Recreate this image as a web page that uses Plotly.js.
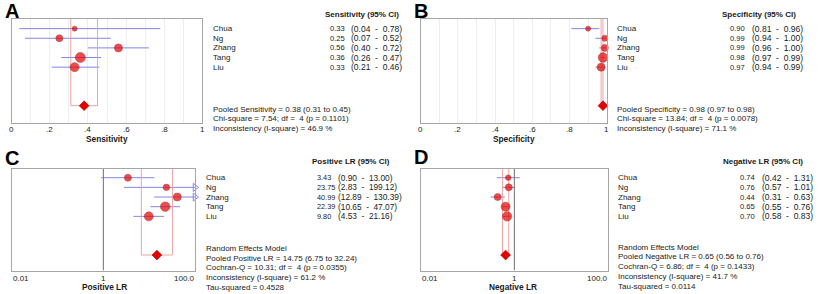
<!DOCTYPE html>
<html>
<head>
<meta charset="utf-8">
<script src="https://cdn.plot.ly/plotly-3.0.1.min.js"></script>
<style>html,body{margin:0;padding:0;background:#fff}#chart{width:819px;height:294px}</style>
</head>
<body>
<div id="chart"></div>
<script>
// ---------- DATA ----------
const studies = ['Chua', 'Ng', 'Zhang', 'Tang', 'Liu'];

const sens    = [0.33, 0.25, 0.56, 0.36, 0.33];
const sensLo  = [0.04, 0.07, 0.40, 0.26, 0.21];
const sensHi  = [0.78, 0.52, 0.72, 0.47, 0.46];
const sensPooled = [0.38, 0.31, 0.45];

const spec    = [0.90, 0.99, 0.99, 0.98, 0.97];
const specLo  = [0.81, 0.94, 0.96, 0.97, 0.94];
const specHi  = [0.96, 1.00, 1.00, 0.99, 0.99];
const specPooled = [0.98, 0.97, 0.98];

const plr     = [3.43, 23.75, 40.99, 22.39, 9.80];
const plrLo   = [0.90, 2.83, 12.89, 10.65, 4.53];
const plrHi   = [13.00, 199.12, 130.39, 47.07, 21.16];
const plrPooled = [14.75, 6.75, 32.24];

const nlr     = [0.74, 0.76, 0.44, 0.65, 0.70];
const nlrLo   = [0.42, 0.57, 0.31, 0.55, 0.58];
const nlrHi   = [1.31, 1.01, 0.63, 0.76, 0.83];
const nlrPooled = [0.65, 0.56, 0.76];

const statsA = ['Pooled Sensitivity = 0.38 (0.31 to 0.45)', 'Chi-square = 7.54; df =  4 (p = 0.1101)', 'Inconsistency (I-square) = 46.9 %'];
const statsB = ['Pooled Specificity = 0.98 (0.97 to 0.98)', 'Chi-square = 13.84; df =  4 (p = 0.0078)', 'Inconsistency (I-square) = 71.1 %'];
const statsC = ['Random Effects Model', 'Pooled Positive LR = 14.75 (6.75 to 32.24)', 'Cochran-Q = 10.31; df =  4 (p = 0.0355)', 'Inconsistency (I-square) = 61.2 %', 'Tau-squared = 0.4528'];
const statsD = ['Random Effects Model', 'Pooled Negative LR = 0.65 (0.56 to 0.76)', 'Cochran-Q = 6.86; df =  4 (p = 0.1433)', 'Inconsistency (I-square) = 41.7 %', 'Tau-squared = 0.0114'];

const linTickVals = [0, 0.2, 0.4, 0.6, 0.8, 1];
const linTickText = ['0', '.2', '.4', '.6', '.8', '1'];
const linGridVals = [0, 0.1, 0.2, 0.3, 0.4, 0.5, 0.6, 0.7, 0.8, 0.9, 1];
const logTickVals = [0.01, 1, 100];
const logTickText = ['0.01', '1', '100.0'];

// ---------- STYLE ----------
const W = 819, H = 294;
const FONT = 'Liberation Sans, Arial, sans-serif';
const TXT = '#1a1a1a';
const CI_COL = '#8585e6';
const BOX_COL = '#eb9c9c';
const MK_FILL = '#e80000';
const MK_LINE = '#8a0000';
const sizesA = [5, 7, 8, 10, 9];
const sizesB = [5, 6, 7, 9.5, 8];
const sizesC = [7, 6.5, 8, 9.5, 9];
const sizesD = [5.5, 7, 7, 9, 9.3];
const rowY = studies.map((s, i) => i + 1);
const POOL_ROW = 9;
const NUM_SIZE = 7.6, CI_SIZE = 8.5, NAME_SIZE = 8, STAT_SIZE = 8;

const px = x => x / W;
const py = y => 1 - y / H;

const traces = [];
const annotations = [];

function panel(ax, vals, lo, hi, pooled, sizes, maxX, topY) {
  const xa = 'x' + ax, ya = 'y' + ax;
  const cx = [], cy = [];
  const arrX = [], arrY = [];
  vals.forEach((v, i) => {
    const clipped = (maxX !== null && hi[i] > maxX);
    cx.push(lo[i], clipped ? maxX : hi[i], null); cy.push(rowY[i], rowY[i], null);
    if (clipped) { arrX.push(maxX); arrY.push(rowY[i]); }
  });
  traces.push({x: cx, y: cy, xaxis: xa, yaxis: ya, mode: 'lines', type: 'scatter',
    line: {color: CI_COL, width: 1}, hoverinfo: 'skip', showlegend: false});
  if (arrX.length) {
    traces.push({x: arrX, y: arrY, xaxis: xa, yaxis: ya, mode: 'markers', type: 'scatter', cliponaxis: false,
      marker: {symbol: 'triangle-right-open', size: 7, color: CI_COL, line: {width: 1, color: CI_COL}},
      hoverinfo: 'skip', showlegend: false});
  }
  // pooled CI box
  traces.push({x: [pooled[1], pooled[1], pooled[2], pooled[2]], y: [topY, POOL_ROW, POOL_ROW, topY],
    xaxis: xa, yaxis: ya, mode: 'lines', type: 'scatter', line: {color: BOX_COL, width: 0.9},
    hoverinfo: 'skip', showlegend: false});
  // study markers
  traces.push({x: vals, y: rowY, xaxis: xa, yaxis: ya, mode: 'markers', type: 'scatter', cliponaxis: false,
    marker: {symbol: 'circle', size: sizes, color: MK_FILL, line: {color: MK_LINE, width: 0.6}},
    hoverinfo: 'skip', showlegend: false});
  // pooled diamond
  traces.push({x: [pooled[0]], y: [POOL_ROW], xaxis: xa, yaxis: ya, mode: 'markers', type: 'scatter', cliponaxis: false,
    marker: {symbol: 'diamond', size: 7.5, color: MK_FILL, line: {color: MK_LINE, width: 0.6}},
    hoverinfo: 'skip', showlegend: false});
}

panel('', sens, sensLo, sensHi, sensPooled, sizesA, null, 0);
panel('2', spec, specLo, specHi, specPooled, sizesB, null, 0);
panel('3', plr, plrLo, plrHi, plrPooled, sizesC, 100, 0.1);
panel('4', nlr, nlrLo, nlrHi, nlrPooled, sizesD, 100, 0.1);

// null lines at LR = 1
['3', '4'].forEach(ax => {
  traces.push({x: [1, 1], y: [0.1, 10.6], xaxis: 'x' + ax, yaxis: 'y' + ax, mode: 'lines', type: 'scatter',
    line: {color: '#6e6e6e', width: 1}, hoverinfo: 'skip', showlegend: false});
});

function txt(x, y, text, opts) {
  annotations.push(Object.assign({x: px(x), y: py(y), xref: 'paper', yref: 'paper', text: text,
    showarrow: false, xanchor: 'left', yanchor: 'middle',
    font: {family: FONT, size: STAT_SIZE, color: TXT}}, opts || {}));
}
function rowTxt(x, yref, row, text, anchor, size) {
  annotations.push({x: px(x), y: row, xref: 'paper', yref: yref, text: text, showarrow: false,
    xanchor: anchor, yanchor: 'middle', font: {family: FONT, size: size, color: TXT}});
}
const SP = '\u00a0\u00a0';
const fmtCI = (l, h) => '(' + l.toFixed(2) + SP + '-' + SP + h.toFixed(2) + ')';

// Panel letters
const LET = {family: FONT, size: 20, color: '#000'};
txt(3, 11.5, '<b>A</b>', {font: LET});
txt(412, 11.5, '<b>B</b>', {font: LET});
txt(3, 157.5, '<b>C</b>', {font: LET});
txt(412, 157, '<b>D</b>', {font: LET});

// Table headers
const HB = {family: FONT, size: 8, color: TXT};
txt(401, 15, '<b>Sensitivity (95% CI)</b>', {xanchor: 'right', font: HB});
txt(797.5, 15, '<b>Specificity (95% CI)</b>', {xanchor: 'right', font: HB});
txt(310, 162, '<b>Positive LR (95% CI)</b>', {font: HB});
txt(805, 162, '<b>Negative LR (95% CI)</b>', {xanchor: 'right', font: HB});

studies.forEach((s, i) => {
  rowTxt(211, 'y', rowY[i], s, 'left', NAME_SIZE);
  rowTxt(347, 'y', rowY[i], sens[i].toFixed(2), 'right', NUM_SIZE);
  rowTxt(349, 'y', rowY[i], fmtCI(sensLo[i], sensHi[i]), 'left', CI_SIZE);

  rowTxt(615, 'y2', rowY[i], s, 'left', NAME_SIZE);
  rowTxt(747, 'y2', rowY[i], spec[i].toFixed(2), 'right', NUM_SIZE);
  rowTxt(750, 'y2', rowY[i], fmtCI(specLo[i], specHi[i]), 'left', CI_SIZE);

  rowTxt(204, 'y3', rowY[i], s, 'left', NAME_SIZE);
  rowTxt(315, 'y3', rowY[i], plr[i].toFixed(2), 'left', 7.3);
  rowTxt(335.5, 'y3', rowY[i], fmtCI(plrLo[i], plrHi[i]), 'left', 8.3);

  rowTxt(616, 'y4', rowY[i], s, 'left', NAME_SIZE);
  rowTxt(756.5, 'y4', rowY[i], nlr[i].toFixed(2), 'right', NUM_SIZE);
  rowTxt(759.5, 'y4', rowY[i], fmtCI(nlrLo[i], nlrHi[i]), 'left', CI_SIZE);
});

const statYA = [109.3, 118.6, 128.3];
statsA.forEach((s, i) => txt(211, statYA[i], s));
statsB.forEach((s, i) => txt(615, statYA[i], s));
const statYC = [248.5, 258, 267.7, 277.7, 287.4];
statsC.forEach((s, i) => txt(204, statYC[i], s));
const statYD = [247, 256.5, 266.2, 276.3, 286.3];
statsD.forEach((s, i) => txt(616, statYD[i], s));

// linear tick labels (via axis coordinates)
['x', 'x2'].forEach(xr => {
  linTickVals.forEach((v, j) => {
    annotations.push({x: v, y: py(129.3), xref: xr, yref: 'paper', text: linTickText[j], showarrow: false,
      xanchor: 'center', yanchor: 'middle', font: {family: FONT, size: 8, color: TXT}});
  });
});
// log tick labels (edge aligned as in reference)
['x3', 'x4'].forEach(xr => {
  logTickVals.forEach((v, j) => {
    const last = j === logTickVals.length - 1;
    annotations.push({x: Math.log10(v), y: py(278.5), xref: xr, yref: 'paper', text: logTickText[j],
      showarrow: false, xanchor: j === 0 ? 'left' : (last ? 'right' : 'center'),
      yanchor: 'middle', xshift: j === 0 ? -1 : (last ? 2 : 0),
      font: {family: FONT, size: 8, color: TXT}});
  });
});
// axis titles
const TB = {family: FONT, size: 8.3, color: TXT};
txt(107, 138.5, '<b>Sensitivity</b>', {xanchor: 'center', font: TB});
txt(514, 138.5, '<b>Specificity</b>', {xanchor: 'center', font: TB});
txt(104, 287.3, '<b>Positive LR</b>', {xanchor: 'center', font: TB});
txt(513, 287.3, '<b>Negative LR</b>', {xanchor: 'center', font: TB});

// ---------- LAYOUT ----------
const FRAME = '#a6a6a6';
const linX = dom => ({domain: dom, range: [0, 1], showline: true, mirror: true, linecolor: FRAME, linewidth: 1,
  zeroline: false, showgrid: true, gridcolor: '#eeeeee', gridwidth: 1,
  tickmode: 'array', tickvals: linGridVals, showticklabels: false, ticks: '', fixedrange: true});
const logX = dom => ({domain: dom, type: 'log', range: [-2, 2], showline: true, mirror: true, linecolor: FRAME, linewidth: 1,
  zeroline: false, showgrid: false, showticklabels: false, ticks: '', fixedrange: true});
const yAx = (dom, rng) => ({domain: dom, range: rng, showline: true, mirror: true, linecolor: FRAME, linewidth: 1,
  zeroline: false, showgrid: false, showticklabels: false, ticks: '', fixedrange: true});

const domTop = [py(123), py(19)];
const domBot = [py(270.5), py(169)];

const layout = {
  width: W, height: H, margin: {l: 0, r: 0, t: 0, b: 0},
  paper_bgcolor: '#ffffff', plot_bgcolor: '#ffffff', showlegend: false,
  font: {family: FONT, size: 8, color: TXT},
  xaxis: Object.assign(linX([px(11.7), px(202.3)]), {anchor: 'y'}), yaxis: Object.assign(yAx(domTop, [10.8, 0]), {anchor: 'x'}),
  xaxis2: Object.assign(linX([px(420.7), px(606.7)]), {anchor: 'y2'}), yaxis2: Object.assign(yAx(domTop, [10.8, 0]), {anchor: 'x2'}),
  xaxis3: Object.assign(logX([px(11.7), px(195)]), {anchor: 'y3'}), yaxis3: Object.assign(yAx(domBot, [10.6, 0.1]), {anchor: 'x3'}),
  xaxis4: Object.assign(logX([px(420.7), px(608)]), {anchor: 'y4'}), yaxis4: Object.assign(yAx(domBot, [10.6, 0.1]), {anchor: 'x4'}),
  annotations: annotations
};

Plotly.newPlot('chart', traces, layout, {staticPlot: true, displayModeBar: false});
</script>
</body>
</html>
